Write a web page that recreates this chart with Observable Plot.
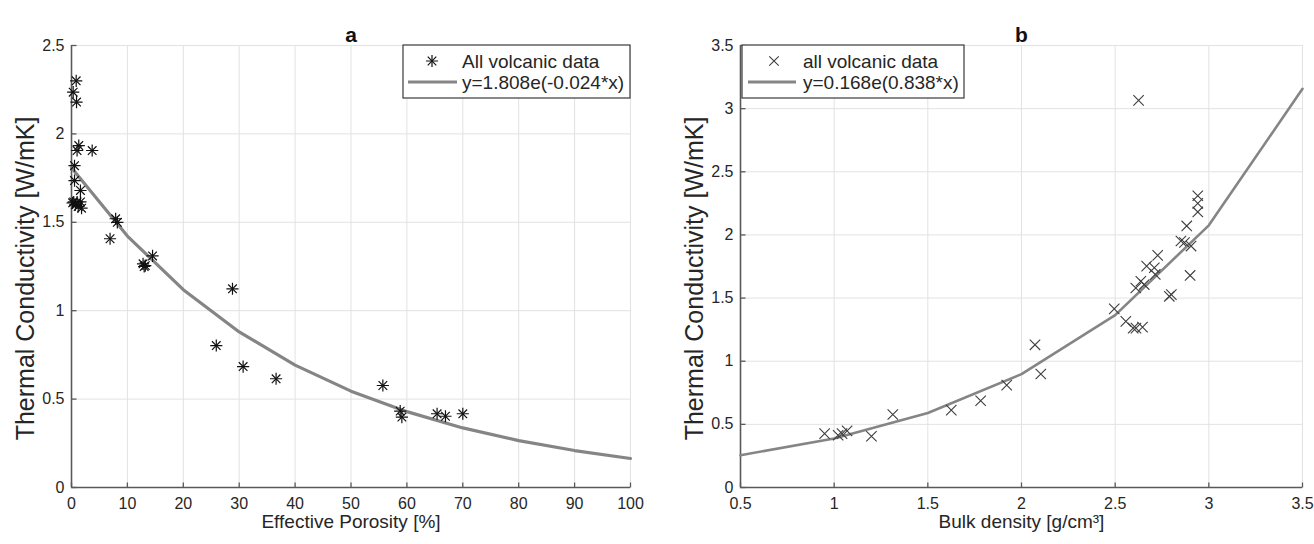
<!DOCTYPE html>
<html>
<head>
<meta charset="utf-8">
<script src="https://cdn.jsdelivr.net/npm/d3@7"></script>
<script src="https://cdn.jsdelivr.net/npm/@observablehq/plot@0.6"></script>
<style>
  html, body { margin: 0; padding: 0; background: #fff; }
  #wrap { display: flex; width: 1314px; height: 544px; }
</style>
</head>
<body>
<div id="wrap"></div>
<script>
// ---------- Panel a data ----------
const porosityA = [0.84, 0.3, 0.9, 1.3, 1.0, 3.7, 0.54, 0.54, 1.6, 0.4, 1.0, 1.6, 0.2, 1.2, 1.8, 0.7,
                   7.9, 8.2, 6.9, 12.8, 13.2, 13.0, 14.5, 28.8, 25.9, 30.7, 36.6, 55.7, 58.8, 59.1, 65.4, 66.9, 70.0];
const condA     = [2.30, 2.236, 2.18, 1.934, 1.906, 1.906, 1.82, 1.736, 1.68, 1.615, 1.615, 1.615, 1.61, 1.59, 1.58, 1.60,
                   1.52, 1.50, 1.407, 1.265, 1.255, 1.25, 1.31, 1.124, 0.803, 0.684, 0.615, 0.577, 0.432, 0.398, 0.417, 0.403, 0.417];
const fitXA = [0, 10, 20, 30, 40, 50, 60, 70, 80, 90, 100];
const fitYA = [1.808, 1.422, 1.119, 0.880, 0.692, 0.545, 0.429, 0.337, 0.265, 0.209, 0.164];
const xTicksA = [0, 10, 20, 30, 40, 50, 60, 70, 80, 90, 100];
const yTicksA = [0, 0.5, 1, 1.5, 2, 2.5];

// ---------- Panel b data ----------
const densityB = [0.949, 1.021, 1.042, 1.069, 1.199, 1.313, 1.625, 1.782, 1.921, 2.072, 2.103,
                  2.495, 2.557, 2.611, 2.646, 2.625, 2.941, 2.941, 2.941, 2.882, 2.851, 2.87, 2.905,
                  2.727, 2.668, 2.709, 2.714, 2.637, 2.655, 2.61, 2.90, 2.789, 2.80, 2.596];
const condB    = [0.427, 0.414, 0.427, 0.448, 0.406, 0.578, 0.613, 0.687, 0.811, 1.13, 0.899,
                  1.414, 1.315, 1.262, 1.27, 3.065, 2.31, 2.25, 2.182, 2.071, 1.952, 1.94, 1.912,
                  1.838, 1.753, 1.74, 1.687, 1.633, 1.607, 1.58, 1.679, 1.514, 1.527, 1.262];
const fitXB = [0.5, 1, 1.5, 2, 2.5, 3, 3.5];
const fitYB = [0.256, 0.388, 0.590, 0.898, 1.365, 2.076, 3.157];
const xTicksB = [0.5, 1, 1.5, 2, 2.5, 3, 3.5];
const yTicksB = [0, 0.5, 1, 1.5, 2, 2.5, 3, 3.5];

const ptsA = porosityA.map((x, i) => ({x, y: condA[i]}));
const fitA = fitXA.map((x, i) => ({x, y: fitYA[i]}));
const ptsB = densityB.map((x, i) => ({x, y: condB[i]}));
const fitB = fitXB.map((x, i) => ({x, y: fitYB[i]}));

const FONT = "'Liberation Sans', Arial, Helvetica, sans-serif";
const tickUp = {draw(ctx) { ctx.moveTo(0, 0); ctx.lineTo(0, -5); }};
const tickRight = {draw(ctx) { ctx.moveTo(0, 0); ctx.lineTo(5, 0); }};
const fmt = d => `${d}`;

function panel({width, marginLeft, marginRight, xDomain, yDomain, xTicks, yTicks, x0, title, xLabel, pointMarks, fit, fitWidth}) {
  return Plot.plot({
    width, height: 544,
    marginLeft, marginRight, marginTop: 45, marginBottom: 57,
    x: {domain: xDomain},
    y: {domain: yDomain},
    style: {fontFamily: FONT, fontSize: "16px", color: "#262626", background: "#fff", overflow: "visible"},
    marks: [
      Plot.gridX(xTicks, {stroke: "#e2e2e2", strokeOpacity: 1, strokeWidth: 1}),
      Plot.gridY(yTicks, {stroke: "#e2e2e2", strokeOpacity: 1, strokeWidth: 1}),
      Plot.ruleX([x0], {stroke: "#595959", strokeWidth: 1.6}),
      Plot.ruleY([0], {stroke: "#595959", strokeWidth: 1.6}),
      Plot.dot(xTicks, {x: d => d, frameAnchor: "bottom", symbol: tickUp, r: 3, stroke: "#595959", strokeWidth: 1.3}),
      Plot.dot(yTicks, {y: d => d, frameAnchor: "left", symbol: tickRight, r: 3, stroke: "#595959", strokeWidth: 1.3}),
      Plot.axisX(xTicks, {tickSize: 0, tickPadding: 10, tickFormat: fmt, label: null, fill: "#262626"}),
      Plot.axisY(yTicks, {tickSize: 0, tickPadding: 7, tickFormat: fmt, label: null, fill: "#262626"}),
      Plot.line(fit, {x: "x", y: "y", stroke: "#858585", strokeWidth: fitWidth}),
      ...pointMarks,
      Plot.text([title], {text: d => d, frameAnchor: "top", dy: -18, fontSize: 21, fontWeight: "bold", fill: "#111"}),
      Plot.text([xLabel], {text: d => d, frameAnchor: "bottom", dy: 40, fontSize: 19, fill: "#262626"}),
      Plot.text(["Thermal Conductivity [W/mK]"], {text: d => d, frameAnchor: "left", textAnchor: "middle", dx: -38, dy: 12, rotate: -90, lineAnchor: "bottom", fontSize: 25, fill: "#262626"})
    ]
  });
}

function addLegend(svg, {bx, by, bw, bh, mx, tx, lx1, lx2, label1, label2, marker}) {
  const g = d3.select(svg).append("g").attr("font-family", FONT).attr("font-size", 19)
    .attr("fill", "#262626").attr("text-anchor", "start");
  g.append("rect").attr("x", bx).attr("y", by).attr("width", bw).attr("height", bh)
    .attr("fill", "#fff").attr("stroke", "#3a3a3a").attr("stroke-width", 1.2);
  marker(g, mx, by + 16);
  g.append("text").attr("x", tx).attr("y", by + 22.5).attr("text-anchor", "start").text(label1);
  g.append("line").attr("x1", lx1).attr("x2", lx2).attr("y1", by + 37).attr("y2", by + 37)
    .attr("stroke", "#858585").attr("stroke-width", 3);
  g.append("text").attr("x", tx).attr("y", by + 44).attr("text-anchor", "start").text(label2);
}

// Panel a
const svgA = panel({
  width: 657, marginLeft: 71, marginRight: 27,
  xDomain: [0, 100], yDomain: [0, 2.5], xTicks: xTicksA, yTicks: yTicksA, x0: 0,
  title: "a", xLabel: "Effective Porosity [%]", fit: fitA, fitWidth: 3.2,
  pointMarks: [
    Plot.dot(ptsA, {x: "x", y: "y", symbol: "plus", r: 4, stroke: "#111", strokeWidth: 1.2}),
    Plot.dot(ptsA, {x: "x", y: "y", symbol: "times", r: 4, stroke: "#111", strokeWidth: 1.2})
  ]
});
addLegend(svgA, {
  bx: 403, by: 45, bw: 227, bh: 53, mx: 432, tx: 462, lx1: 408, lx2: 457,
  label1: "All volcanic data", label2: "y=1.808e(-0.024*x)",
  marker: (g, x, y) => {
    g.append("path").attr("transform", `translate(${x},${y})`).attr("d", d3.symbol(d3.symbolPlus, 50)())
      .attr("fill", "none").attr("stroke", "#111").attr("stroke-width", 1.2);
    g.append("path").attr("transform", `translate(${x},${y})`).attr("d", d3.symbol(d3.symbolTimes, 50)())
      .attr("fill", "none").attr("stroke", "#111").attr("stroke-width", 1.2);
  }
});

// Panel b
const svgB = panel({
  width: 657, marginLeft: 83, marginRight: 12,
  xDomain: [0.5, 3.5], yDomain: [0, 3.5], xTicks: xTicksB, yTicks: yTicksB, x0: 0.5,
  title: "b", xLabel: "Bulk density [g/cm³]", fit: fitB, fitWidth: 2.6,
  pointMarks: [
    Plot.dot(ptsB, {x: "x", y: "y", symbol: "times", r: 4.8, stroke: "#3d3d3d", strokeWidth: 1.1})
  ]
});
addLegend(svgB, {
  bx: 85, by: 45, bw: 222, bh: 53, mx: 117, tx: 146, lx1: 91, lx2: 139,
  label1: "all volcanic data", label2: "y=0.168e(0.838*x)",
  marker: (g, x, y) => {
    g.append("path").attr("transform", `translate(${x},${y})`).attr("d", d3.symbol(d3.symbolTimes, 60)())
      .attr("fill", "none").attr("stroke", "#3d3d3d").attr("stroke-width", 1.1);
  }
});

document.getElementById("wrap").append(svgA, svgB);
</script>
</body>
</html>
